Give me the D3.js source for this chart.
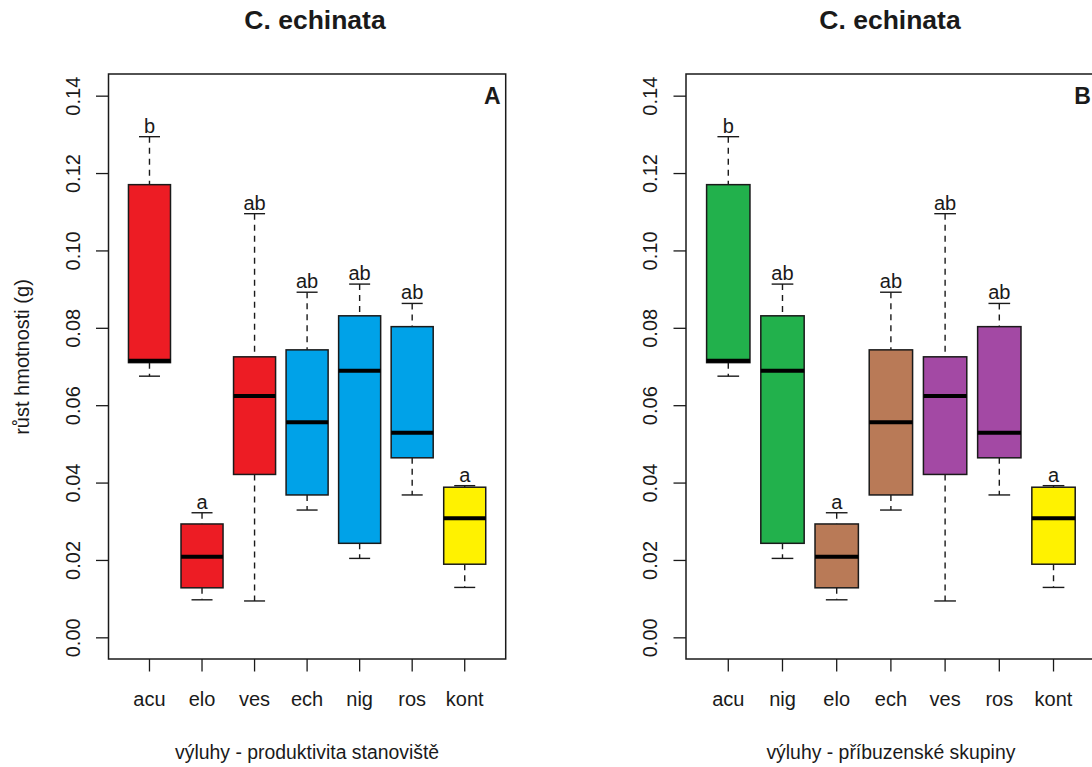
<!DOCTYPE html>
<html>
<head>
<meta charset="utf-8">
<script src="https://cdn.jsdelivr.net/npm/d3@7"></script>
<style>
    body { margin: 0; background: #fff; }
    svg text { font-family: "Liberation Sans", Arial, sans-serif; fill: #1a1a1a; }
</style>
</head>
<body>
<div id="chart"></div>
<script>
'use strict';

// box statistics per group (same data in both panels, only order/colours differ)
let categories = ['acu', 'elo', 'ves', 'ech', 'nig', 'ros', 'kont'];
let whiskerLow = [0.0675, 0.0097, 0.0094, 0.0329, 0.0204, 0.0368, 0.0129];
let quartile1 = [0.0710, 0.0128, 0.0421, 0.0368, 0.0243, 0.0464, 0.0189];
let medians = [0.0715, 0.0208, 0.0624, 0.0556, 0.0689, 0.0529, 0.0308];
let quartile3 = [0.1170, 0.0293, 0.0725, 0.0743, 0.0831, 0.0803, 0.0388];
let whiskerHigh = [0.1294, 0.0322, 0.1095, 0.0892, 0.0913, 0.0863, 0.0392];
let letters = ['b', 'a', 'ab', 'ab', 'ab', 'ab', 'a'];

let yTicks = [0, 0.02, 0.04, 0.06, 0.08, 0.10, 0.12, 0.14];
let yLimits = [0, 0.14];

let orderA = ['acu', 'elo', 'ves', 'ech', 'nig', 'ros', 'kont'];
let colorsA = ['#ED1C24', '#ED1C24', '#ED1C24', '#00A2E8', '#00A2E8', '#00A2E8', '#FFF200'];
let orderB = ['acu', 'nig', 'elo', 'ech', 'ves', 'ros', 'kont'];
let colorsB = ['#22B14C', '#22B14C', '#B97A57', '#B97A57', '#A349A4', '#A349A4', '#FFF200'];

let panels = [
    {order: orderA, colors: colorsA, tag: 'A', left: 108.5, right: 505.7, titleX: 315,
        xTitle: 'výluhy - produktivita stanoviště', yTitle: 'růst hmotnosti (g)'},
    {order: orderB, colors: colorsB, tag: 'B', left: 686, right: 1095.8, titleX: 890,
        xTitle: 'výluhy - příbuzenské skupiny', yTitle: null}
];

let plotTop = 74, plotBottom = 659;

let svg = d3.select('#chart')
    .append('svg')
    .attr('width', 1092)
    .attr('height', 767);

// R style 4% extension of ylim
let pad = (yLimits[1] - yLimits[0]) * 0.04;
let y = d3.scaleLinear()
    .domain([yLimits[0] - pad, yLimits[1] + pad])
    .range([plotBottom, plotTop]);

panels.forEach(drawPanel);

function drawPanel(p) {
    let rows = p.order.map(function (name, i) {
        let k = categories.indexOf(name);
        return {
            name: name,
            color: p.colors[i],
            lo: whiskerLow[k],
            q1: quartile1[k],
            med: medians[k],
            q3: quartile3[k],
            hi: whiskerHigh[k],
            letter: letters[k]
        };
    });

    let x = d3.scaleBand()
        .domain(p.order)
        .range([p.left, p.right])
        .paddingInner(0.2)
        .paddingOuter(0.38);

    let bw = x.bandwidth();
    let g = svg.append('g');

    // title
    g.append('text')
        .attr('x', p.titleX)
        .attr('y', 29)
        .attr('text-anchor', 'middle')
        .style('font-size', '26.5px')
        .style('font-weight', 'bold')
        .text('C. echinata');

    // y axis
    let yAxis = g.append('g')
        .attr('transform', 'translate(' + p.left + ',0)')
        .call(d3.axisLeft(y).tickValues(yTicks).tickFormat(d3.format('.2f')).tickSize(12.5));
    yAxis.select('.domain').remove();
    yAxis.selectAll('.tick line').attr('stroke', '#1a1a1a').attr('stroke-width', 1.3);
    yAxis.selectAll('.tick text')
        .attr('x', null)
        .attr('dy', null)
        .attr('transform', 'translate(-29,0) rotate(-90)')
        .attr('text-anchor', 'middle')
        .style('font-size', '20px')
        .style('font-family', '"Liberation Sans", Arial, sans-serif')
        .attr('fill', '#1a1a1a');

    // x axis
    let xAxis = g.append('g')
        .attr('transform', 'translate(0,' + plotBottom + ')')
        .call(d3.axisBottom(x).tickSize(12.5).tickPadding(0));
    xAxis.select('.domain').remove();
    xAxis.selectAll('.tick line').attr('stroke', '#1a1a1a').attr('stroke-width', 1.3);
    xAxis.selectAll('.tick text')
        .attr('y', 47)
        .attr('dy', null)
        .style('font-size', '20px')
        .style('font-family', '"Liberation Sans", Arial, sans-serif')
        .attr('fill', '#1a1a1a');

    // axis titles
    g.append('text')
        .attr('x', (p.left + p.right) / 2)
        .attr('y', 759)
        .attr('text-anchor', 'middle')
        .style('font-size', '19.4px')
        .text(p.xTitle);

    if (p.yTitle) {
        g.append('text')
            .attr('transform', 'translate(29,357) rotate(-90)')
            .attr('text-anchor', 'middle')
            .style('font-size', '20px')
            .text(p.yTitle);
    }

    // whiskers (dashed)
    let boxes = g.selectAll('g.box')
        .data(rows)
        .enter()
        .append('g')
        .attr('class', 'box');

    boxes.append('line')
        .attr('x1', function (d) { return x(d.name) + bw / 2; })
        .attr('x2', function (d) { return x(d.name) + bw / 2; })
        .attr('y1', function (d) { return y(d.hi); })
        .attr('y2', function (d) { return y(d.q3); })
        .attr('stroke', '#1a1a1a')
        .attr('stroke-width', 1.4)
        .attr('stroke-dasharray', '6,5');

    boxes.append('line')
        .attr('x1', function (d) { return x(d.name) + bw / 2; })
        .attr('x2', function (d) { return x(d.name) + bw / 2; })
        .attr('y1', function (d) { return y(d.q1); })
        .attr('y2', function (d) { return y(d.lo); })
        .attr('stroke', '#1a1a1a')
        .attr('stroke-width', 1.4)
        .attr('stroke-dasharray', '6,5');

    // staples
    ['hi', 'lo'].forEach(function (key) {
        boxes.append('line')
            .attr('x1', function (d) { return x(d.name) + bw / 4; })
            .attr('x2', function (d) { return x(d.name) + bw * 3 / 4; })
            .attr('y1', function (d) { return y(d[key]); })
            .attr('y2', function (d) { return y(d[key]); })
            .attr('stroke', '#1a1a1a')
            .attr('stroke-width', 1.4);
    });

    boxes.append('rect')
        .attr('x', function (d) { return x(d.name); })
        .attr('y', function (d) { return y(d.q3); })
        .attr('width', bw)
        .attr('height', function (d) { return y(d.q1) - y(d.q3); })
        .attr('fill', function (d) { return d.color; })
        .attr('stroke', '#1a1a1a')
        .attr('stroke-width', 1.5);

    boxes.append('line')
        .attr('x1', function (d) { return x(d.name); })
        .attr('x2', function (d) { return x(d.name) + bw; })
        .attr('y1', function (d) { return y(d.med); })
        .attr('y2', function (d) { return y(d.med); })
        .attr('stroke', '#000')
        .attr('stroke-width', 4);

    // significance letters
    boxes.append('text')
        .attr('x', function (d) { return x(d.name) + bw / 2; })
        .attr('y', function (d) { return y(d.hi) - 4; })
        .attr('text-anchor', 'middle')
        .style('font-size', '20px')
        .text(function (d) { return d.letter; });

    // frame
    g.append('rect')
        .attr('x', p.left)
        .attr('y', plotTop)
        .attr('width', p.right - p.left)
        .attr('height', plotBottom - plotTop)
        .attr('fill', 'none')
        .attr('stroke', '#1a1a1a')
        .attr('stroke-width', 1.5);

    g.append('text')
        .attr('x', p.right - 5)
        .attr('y', plotTop + 30)
        .attr('text-anchor', 'end')
        .style('font-size', '23px')
        .style('font-weight', 'bold')
        .text(p.tag);
}
</script>
</body>
</html>
